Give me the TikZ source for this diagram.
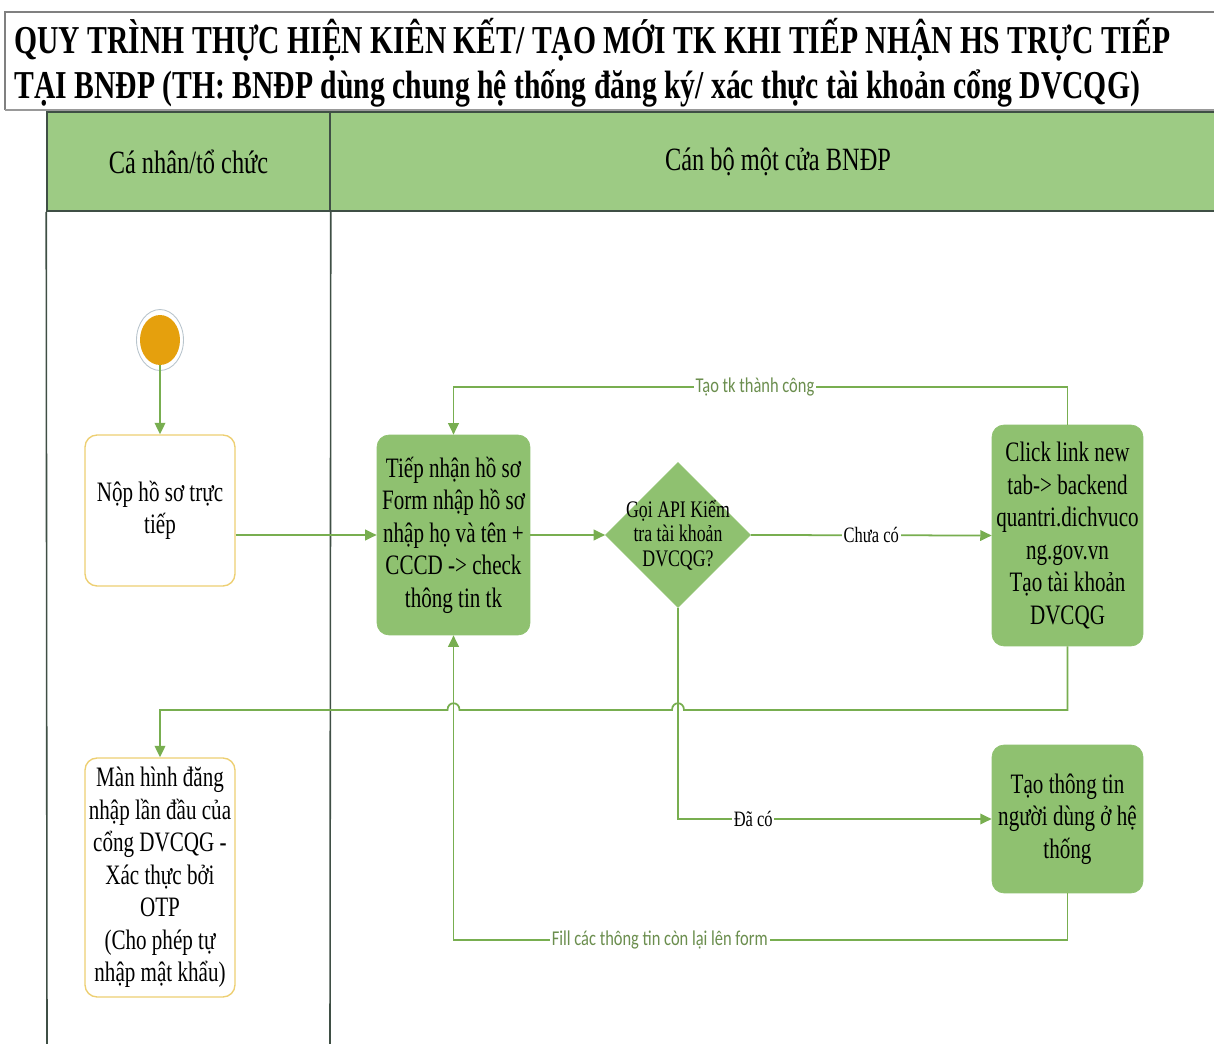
\documentclass[tikz,border=0pt]{standalone}
\usepackage{fontspec}
\setmainfont{Liberation Serif}[FakeStretch=0.75]
\newfontfamily\lblfont{Carlito}[FakeStretch=0.78]
\usetikzlibrary{shapes.geometric,arrows.meta,calc}
\definecolor{headgreen}{HTML}{9DCB84}
\definecolor{boxgreen}{HTML}{8FC170}
\definecolor{flowgreen}{HTML}{78AE50}
\definecolor{lanegray}{HTML}{3F4F45}
\definecolor{goldline}{HTML}{EDCF72}
\definecolor{startorange}{HTML}{E5A00D}
\definecolor{ringgray}{HTML}{B8C4CC}
\definecolor{lblgreen}{HTML}{6B8E4E}
\begin{document}
\begin{tikzpicture}[x=0.02cm,y=-0.02cm,
  flow/.style={draw=flowgreen,line width=1pt,-{Triangle[length=6.5pt,width=6pt]}},
  laneline/.style={draw=lanegray,line width=0.9pt},
  lanehead/.style={rectangle,fill=headgreen,draw=lanegray,line width=0.9pt,minimum height=1.98cm,font=\fontsize{18.5}{21}\selectfont},
  task/.style={rectangle,rounded corners=0.24cm,fill=boxgreen,draw=boxgreen,align=center,font=\fontsize{16}{18.5}\selectfont,inner sep=2pt,minimum width=3.02cm},
  usertask/.style={task,fill=white,draw=goldline,line width=0.8pt,minimum width=3.0cm},
  decision/.style={diamond,fill=boxgreen,draw=boxgreen,minimum width=2.9cm,minimum height=2.9cm,inner sep=0pt},
  startdot/.style={ellipse,fill=startorange,minimum width=0.8cm,minimum height=1.0cm,inner sep=0pt},
  btext/.style={fill=white,inner sep=1pt,font=\fontsize{12.5}{14}\selectfont},
  gtext/.style={fill=white,inner sep=1pt,text=lblgreen,font=\lblfont\fontsize{12}{14}\selectfont}]
\useasboundingbox (0,0) rectangle (1214,1044);
%%% title block
\draw[gray,line width=1pt] (5,110) -- (5,12) -- (1214,12);
\draw[gray!80,line width=1.6pt] (5,110) -- (1214,110);
\node[anchor=base west,inner sep=0pt,font=\fontsize{22.5}{26}\bfseries] (title1) at (14,54)
  {QUY TRÌNH THỰC HIỆN KIÊN KẾT/ TẠO MỚI TK KHI TIẾP NHẬN HS TRỰC TIẾP};
\node[anchor=base west,inner sep=0pt,font=\fontsize{22.5}{26}\bfseries] (title2) at (14,99)
  {TẠI BNĐP (TH: BNĐP dùng chung hệ thống đăng ký/ xác thực tài khoản cổng DVCQG)};
%%% swimlanes
\node[lanehead,minimum width=5.66cm] (lane1) at (188.5,161.5) {Cá nhân/tổ chức};
\node[lanehead,minimum width=17.92cm] (lane2) at (778,161.5) {Cán bộ một cửa BNĐP};
\draw[laneline] (lane1.south west) -- (47,1044);
\draw[laneline] (lane1.south east) -- (330,1044);
%%% nodes
\node[startdot] (start) at (160,340) {};
\draw[ringgray,line width=0.5pt] (start.center) ellipse [x radius=0.47cm,y radius=0.61cm];
\node[usertask,minimum height=3.02cm] (submit) at (160,510.5) {Nộp hồ sơ trực\\tiếp};
\node[task,minimum width=3.06cm,minimum height=4.0cm] (receive) at (453.5,535)
  {Tiếp nhận hồ sơ\\Form nhập hồ sơ\\nhập họ và tên +\\CCCD -> check\\thông tin tk};
\node[decision,label={[align=center,font=\fontsize{13.5}{14}\selectfont]center:Gọi API Kiểm\\tra tài khoản\\DVCQG?}] (check) at (678,535) {};
\node[task,minimum height=4.42cm] (create) at (1067.5,535.5)
  {Click link new\\tab-> backend\\quantri.dichvuco\\ng.gov.vn\\Tạo tài khoản\\DVCQG};
\node[task,minimum height=2.96cm] (userinfo) at (1067.5,819)
  {Tạo thông tin\\người dùng ở hệ\\thống};
\node[usertask,minimum height=4.78cm] (login) at (160,877.5)
  {Màn hình đăng\\nhập lần đầu của\\cổng DVCQG -\\Xác thực bởi\\OTP\\(Cho phép tự\\nhập mật khẩu)};
%%% connectors
\draw[flow] (start.south) -- (submit.north);
\draw[flow] (submit.east |- receive.west) -- (receive.west);
\draw[flow] (receive.east) -- (check.west);
\draw[flow] (check.east) -- node[btext] {Chưa có} (create.west);
\draw[flow] (create.north) -- (create.north |- 0,387) -- node[gtext,pos=0.509] {Tạo tk thành công} (receive.north |- 0,387) -- (receive.north);
\draw[flow] (check.south) |- node[btext,pos=0.62] {Đã có} (userinfo.west);
\draw[flow] (userinfo.south) -- (userinfo.south |- 0,940) -- node[gtext,pos=0.664] {Fill các thông tin còn lại lên form} (receive.south |- 0,940) -- (receive.south);
%%% return line with hops over the two vertical lines
\coordinate (hopA) at (check.south |- 0,710);
\coordinate (hopB) at (receive.south |- 0,710);
\draw[flow] (create.south) -- (create.south |- hopA) -- ($(hopA)+(6,0)$) .. controls +(0,-9) and +(0,-9) .. ($(hopA)+(-6,0)$)
  -- ($(hopB)+(6,0)$) .. controls +(0,-9) and +(0,-9) .. ($(hopB)+(-6,0)$) -| (login.north);
\end{tikzpicture}
\end{document}
